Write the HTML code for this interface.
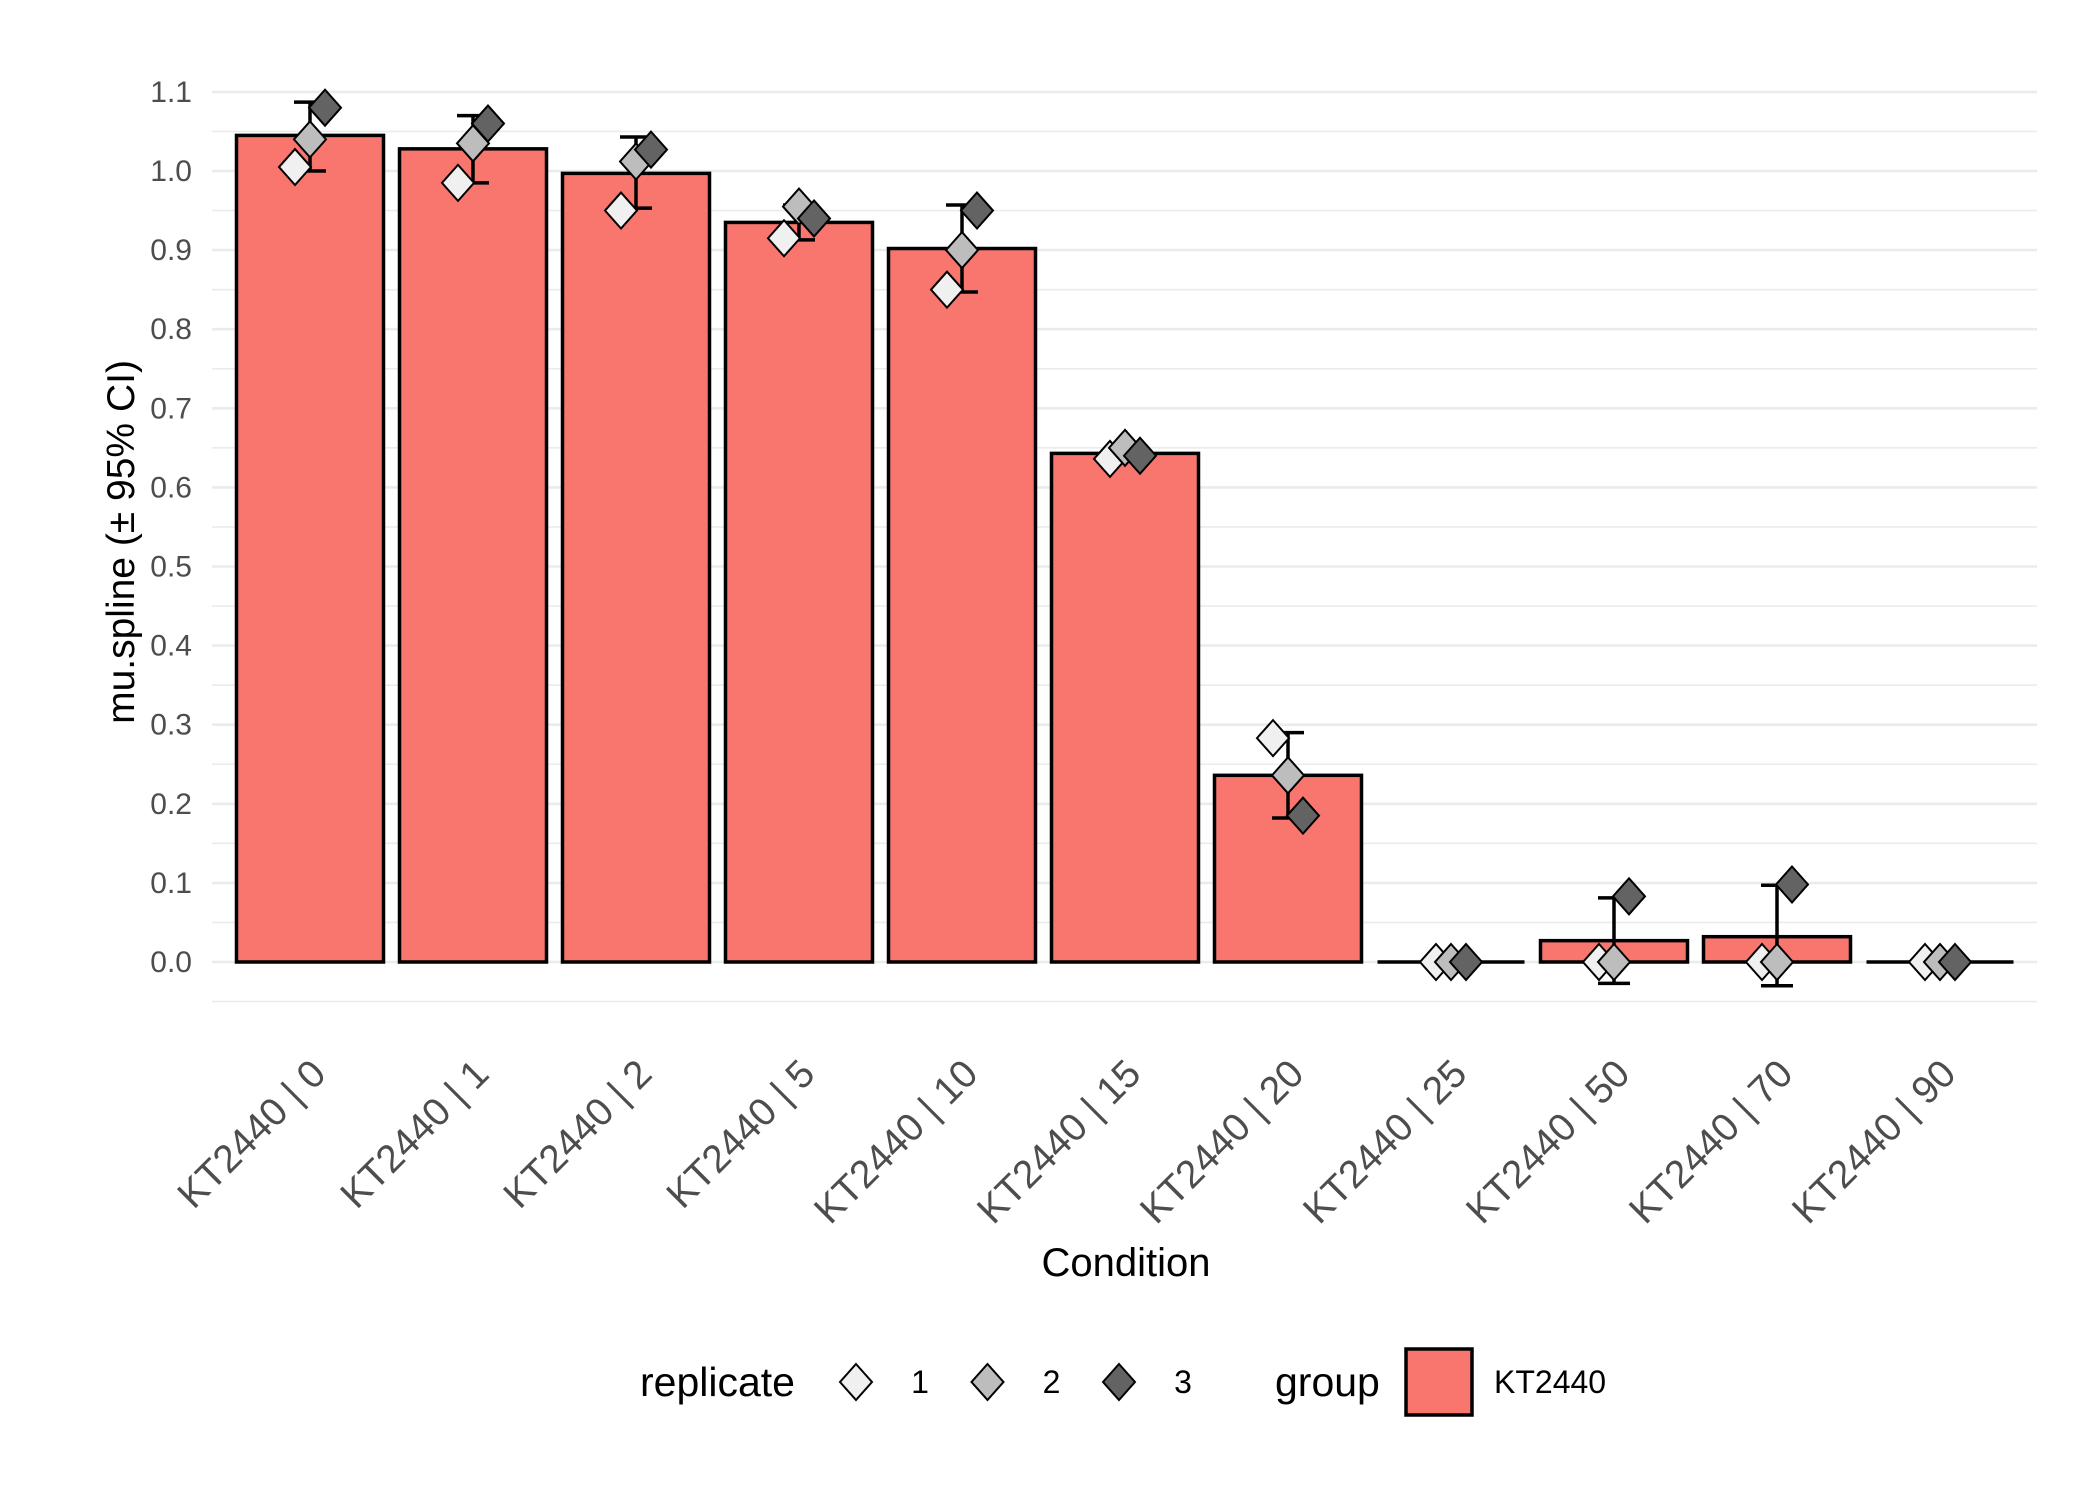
<!DOCTYPE html>
<html><head><meta charset="utf-8"><style>
html,body{margin:0;padding:0;background:#fff}
svg text{font-family:"Liberation Sans",Arial,sans-serif}
</style></head><body>
<svg id="chart" width="2100" height="1500" viewBox="0 0 2100 1500" xmlns="http://www.w3.org/2000/svg">
<rect width="2100" height="1500" fill="#fff"/>
<g id="grid"></g><g id="bars"></g><g id="errs"></g><g id="pts"></g><g id="ylab"></g><g id="xlab"></g>
<text transform="translate(134,542) rotate(-90)" text-anchor="middle" font-size="39" fill="#000">mu.spline (± 95% CI)</text>
<text x="1126" y="1276" text-anchor="middle" font-size="40" fill="#000">Condition</text>
<g>
<text x="640" y="1396" font-size="41" fill="#000">replicate</text>
<g id="legpts"></g>
<text x="1275" y="1396" font-size="41" fill="#000">group</text>
<rect x="1406" y="1349" width="66" height="66" fill="#F8766D" stroke="#000" stroke-width="3.5"/>
<text x="1494" y="1393" font-size="32" fill="#000">KT2440</text>
</g>
</svg>
<script>
const categories=["KT2440 | 0","KT2440 | 1","KT2440 | 2","KT2440 | 5","KT2440 | 10","KT2440 | 15","KT2440 | 20","KT2440 | 25","KT2440 | 50","KT2440 | 70","KT2440 | 90"];
const means=[1.045,1.028,0.997,0.935,0.902,0.643,0.236,0,0.027,0.032,0];
const ciLow=[1.0,0.985,0.953,0.913,0.847,0.636,0.182,0,-0.027,-0.03,0];
const ciHigh=[1.087,1.07,1.043,0.957,0.957,0.65,0.29,0,0.081,0.097,0];
const rep1=[1.005,0.985,0.95,0.915,0.85,0.636,0.283,0,0,0,0];
const rep2=[1.04,1.035,1.012,0.955,0.9,0.65,0.236,0,0,0,0];
const rep3=[1.08,1.06,1.027,0.94,0.95,0.64,0.185,0,0.083,0.098,0];
const yTicks=[0,0.1,0.2,0.3,0.4,0.5,0.6,0.7,0.8,0.9,1.0,1.1];
const repLabels=["1","2","3"];
const repFills=["#f0f0f0","#bdbdbd","#636363"];

const NS="http://www.w3.org/2000/svg";
const X0=212,X1=2037;
const y=v=>962-v*791;
const step=163;
const x=i=>310+i*step;
const bw=147;
const DW=16,DH=18;
function el(tag,attrs,parent){const e=document.createElementNS(NS,tag);for(const k in attrs)e.setAttribute(k,attrs[k]);document.getElementById(parent).appendChild(e);return e;}
for(let k=-1;k<=22;k++){
  const vv=k*0.05;
  const g=el('line',{x1:X0,x2:X1,y1:y(vv),y2:y(vv),stroke:'#ebebeb','stroke-width':k%2===0?2.6:1.6},'grid');
  
  
}
yTicks.forEach(t=>{
  const tx=el('text',{x:192,y:y(t)+10,'text-anchor':'end','font-size':30,fill:'#4d4d4d'},'ylab');
  tx.textContent=t.toFixed(1);
  
  
});
categories.forEach((c,i)=>{
  const cx=x(i);
  const top=y(Math.max(means[i],0)),bot=y(0);
  const h=Math.max(bot-top,0);
  let b;
  if(h>0.5){
    b=el('rect',{x:cx-bw/2,y:top,width:bw,height:h,fill:'#F8766D',stroke:'#000','stroke-width':3.5},'bars');
  } else {
    b=el('line',{x1:cx-bw/2,x2:cx+bw/2,y1:bot,y2:bot,stroke:'#000','stroke-width':3.5},'bars');
  }
  
  
  const e=el('path',{d:`M${cx-16},${y(ciHigh[i])}H${cx+16}M${cx},${y(ciHigh[i])}V${y(ciLow[i])}M${cx-16},${y(ciLow[i])}H${cx+16}`,stroke:'#000','stroke-width':3.5,fill:'none'},'errs');
  
  
  [rep1,rep2,rep3].forEach((r,k)=>{
    const px=cx+(k-1)*15,py=y(r[i]);
    const d=el('path',{d:`M${px},${py-DH}L${px+DW},${py}L${px},${py+DH}L${px-DW},${py}Z`,fill:repFills[k],stroke:'#000','stroke-width':2},'pts');
    
    
  });
  const t=el('text',{transform:`translate(${cx+18},${1076}) rotate(-45)`,'text-anchor':'end','font-size':39,fill:'#4d4d4d'},'xlab');
  t.textContent=c;
  
  
});
repLabels.forEach((l,k)=>{
  const px=856+k*131.5,py=1382;
  const d=el('path',{d:`M${px},${py-DH}L${px+DW},${py}L${px},${py+DH}L${px-DW},${py}Z`,fill:repFills[k],stroke:'#000','stroke-width':2},'legpts');
  
  
  const t=el('text',{x:px+64,y:py+11,'text-anchor':'middle','font-size':32,fill:'#000'},'legpts');
  t.textContent=l;
  
  
});
</script>
</body></html>
